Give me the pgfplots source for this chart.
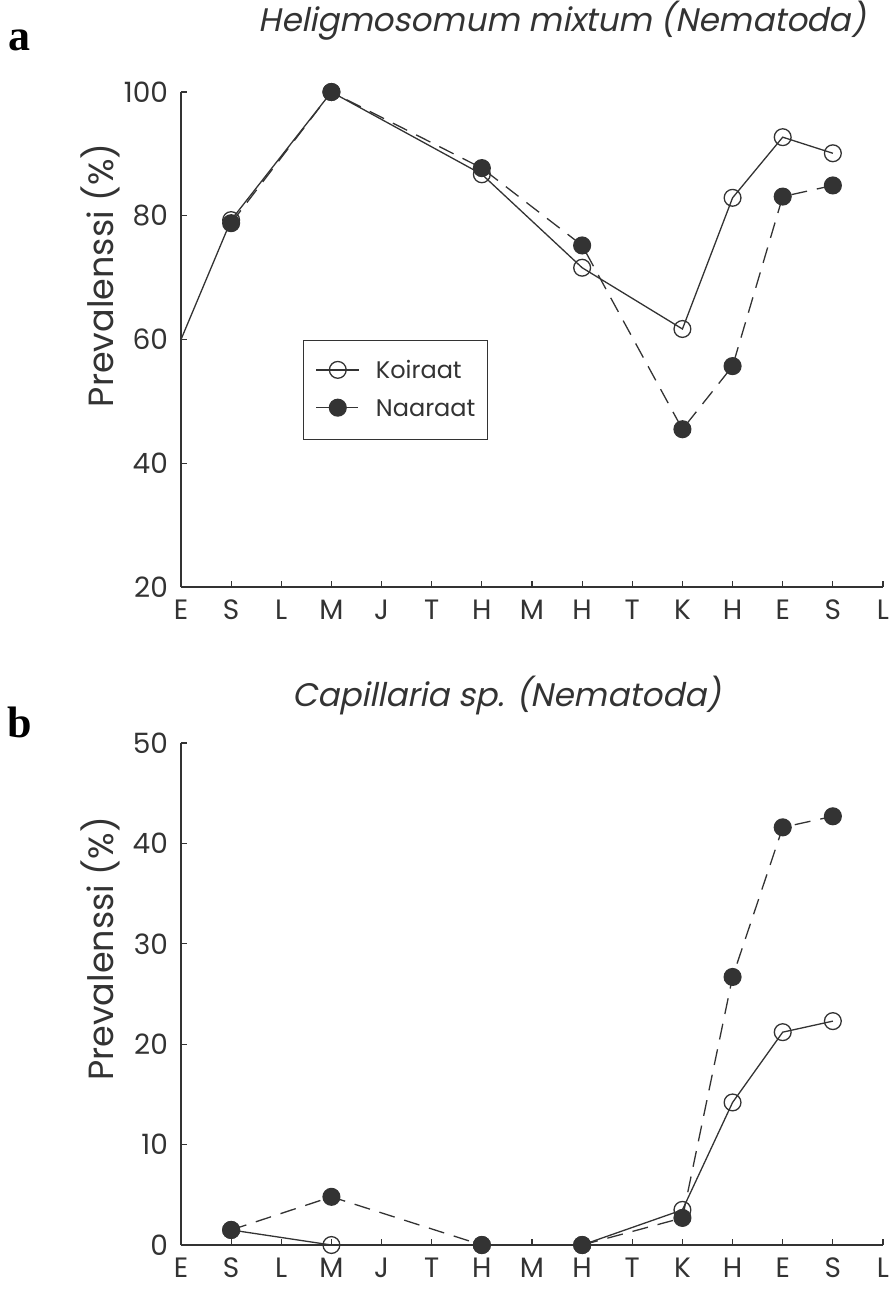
\documentclass[border=0pt]{standalone}
\usepackage{pgfplots}
\pgfplotsset{compat=1.18}
\usepackage{fontspec}
\setmainfont{Poppins}
\newfontfamily\titlefont[FakeSlant=0.2]{Poppins}
\newfontfamily\panelfont{Liberation Serif}
\definecolor{ink}{gray}{0.2}
\begin{document}
\begin{tikzpicture}
\useasboundingbox (0,0) rectangle (447pt,-645.5pt);
\pgfplotsset{
  every axis title shift=0pt,
  panel/.style={
    scale only axis, width=351pt,
    xmin=0, xmax=14,
    axis lines*=left, axis line style={-, ink, line width=0.6pt},
    tick align=inside, major tick length=3pt,
    tick style={ink, line width=0.6pt},
    xtick={0,...,14},
    xticklabels={E,S,L,M,J,T,H,M,H,T,K,H,E,S,L},
    ticklabel style={font=\fontsize{14}{16}\selectfont, text=ink},
    yticklabel style={xshift=-3pt},
    xticklabel style={yshift=-3pt},
    /pgf/number format/assume math mode=true,
    ylabel={Prevalenssi (\%)},
    ylabel style={font=\fontsize{17.5}{20}\selectfont, text=ink, anchor=center},
    title style={font=\titlefont\fontsize{16.3}{19}\selectfont, text=ink, anchor=center},
    clip=false,
  },
  male/.style={ink, line width=0.65pt, mark=o, mark size=4.2pt, mark options={fill=white, solid}},
  female/.style={ink, line width=0.65pt, dash pattern=on 8pt off 5pt, mark=*, mark size=4.2pt, mark options={fill=ink, solid}},
}
\node[font=\panelfont\bfseries\fontsize{22}{24}\selectfont] at (10pt,-20pt) {a};
\node[font=\panelfont\bfseries\fontsize{22}{24}\selectfont] at (10pt,-361pt) {b};

\begin{axis}[panel, at={(90.5pt,-293.5pt)}, anchor=south west, height=247.5pt,
  ymin=20, ymax=100, ytick={20,40,60,80,100},
  ylabel style={at={(axis description cs:-0.115,0.63)}},
  title={Heligmosomum mixtum (Nematoda)},
  title style={at={(axis description cs:0.543,1.145)}},
  legend image code/.code={
    \draw[mark repeat=2, mark phase=2, #1] plot coordinates {(0pt,4.2pt) (10.75pt,4.2pt) (21.5pt,4.2pt)};
  },
  legend style={at={(axis description cs:0.174,0.5)}, anchor=north west,
    draw=ink, line width=0.5pt, font=\fontsize{12}{14}\selectfont, text=ink,
    row sep=9pt, inner xsep=6pt, inner ysep=10pt,
    nodes={inner sep=0pt, anchor=base west},
    /tikz/every odd column/.append style={column sep=8pt}},
  legend cell align=left]
\addplot[ink, line width=0.65pt, forget plot] coordinates {(0,60) (1,79.3)};
\addplot[male] coordinates {(1,79.3) (3,100) (6,86.7) (8,71.6) (10,61.7) (11,82.9) (12,92.7) (13,90.1)};
\addlegendentry{Koiraat}
\addplot[female] coordinates {(1,78.8) (3,100) (6,87.7) (8,75.2) (10,45.5) (11,55.7) (12,83.1) (13,84.9)};
\addlegendentry{Naaraat}
\end{axis}

\begin{axis}[panel, at={(90.5pt,-622.5pt)}, anchor=south west, height=251pt,
  ymin=0, ymax=50, ytick={0,10,20,30,40,50},
  ylabel style={at={(axis description cs:-0.115,0.59)}},
  title={Capillaria sp. (Nematoda)},
  title style={at={(axis description cs:0.464,1.094)}}]
\addplot[male] coordinates {(1,1.5) (3,0) (6,0) (8,0) (10,3.5) (11,14.2) (12,21.2) (13,22.3)};
\addplot[female] coordinates {(1,1.5) (3,4.8) (6,0) (8,0) (10,2.7) (11,26.7) (12,41.6) (13,42.7)};
\end{axis}
\end{tikzpicture}
\end{document}
